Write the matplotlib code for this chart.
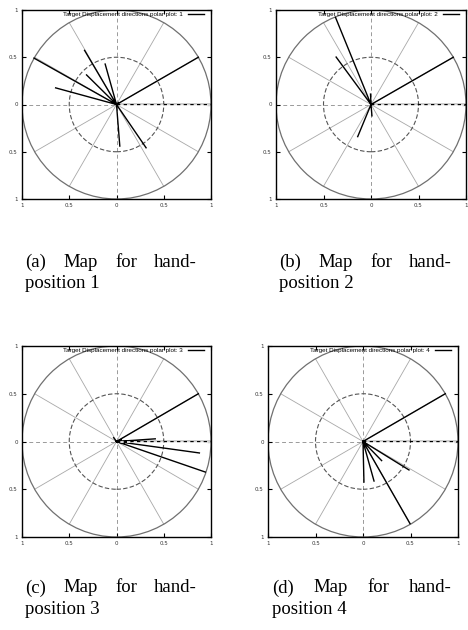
import numpy as np
import matplotlib
matplotlib.use("Agg")
import matplotlib.pyplot as plt
from matplotlib.patches import Circle

# end points of the displacement vectors (all start at the origin)
p1_x = [1.0, 0.866, -0.873, -0.644, -0.338, -0.317, -0.12, 0.035, 0.313, 0.02]
p1_y = [0.0, 0.5, 0.491, 0.176, 0.573, 0.313, 0.428, -0.44, -0.458, 0.02]
p2_x = [1.0, 0.866, -0.374, -0.367, -0.14, 0.01, -0.005]
p2_y = [0.0, 0.5, 0.923, 0.502, -0.34, -0.12, 0.11]
p3_x = [1.0, 0.866, 0.41, 0.877, 0.94, -0.03, 0.08, 0.05]
p3_y = [0.0, 0.5, 0.028, -0.12, -0.32, 0.04, -0.02, 0.02]
p4_x = [1.0, 0.866, 0.01, 0.116, 0.196, 0.484, 0.495, 0.03]
p4_y = [0.0, 0.5, -0.425, -0.414, -0.2, -0.298, -0.86, -0.03]

panel_x = [p1_x, p2_x, p3_x, p4_x]
panel_y = [p1_y, p2_y, p3_y, p4_y]
panel_num = ["1", "2", "3", "4"]
cap_tag = ["(a)", "(b)", "(c)", "(d)"]

tick_vals = [-1, -0.5, 0, 0.5, 1]
tick_text = ["1", "0.5", "0", "0.5", "1"]

W, H = 468, 630
fig = plt.figure(figsize=(W / 100, H / 100), dpi=100)

# axes boxes in pixels: left, top, right, bottom
boxes = [(22, 10, 211, 199), (276, 10, 466, 199),
         (22, 346, 211, 537), (268, 346, 458, 537)]
# caption columns: x0, x1, first line y, second line y
caps = [(25, 197, 262, 283), (279, 452, 262, 283),
        (25, 197, 588, 609), (272, 452, 588, 609)]

for i in range(4):
    l, t, r, b = boxes[i]
    ax = fig.add_axes([l / W, 1 - b / H, (r - l) / W, (b - t) / H])
    ax.set_xlim(-1, 1)
    ax.set_ylim(-1, 1)

    # grid
    for a in [30, 60, 120, 150, 210, 240, 300, 330]:
        th = np.deg2rad(a)
        ax.plot([0, np.cos(th)], [0, np.sin(th)], color="#a8a8a8", lw=0.6, zorder=1)
    ax.plot([-1, 0], [0, 0], color="#9a9a9a", lw=0.7, ls=(0, (4, 3)), zorder=1)
    ax.plot([0, 0], [-1, 1], color="#9a9a9a", lw=0.7, ls=(0, (4, 3)), zorder=1)
    ax.add_patch(Circle((0, 0), 0.5, fill=False, ec="#555555", lw=0.8,
                        ls=(0, (4, 2)), zorder=2))
    ax.add_patch(Circle((0, 0), 1.0, fill=False, ec="#707070", lw=0.9, zorder=2))

    # vectors from the origin, one line object with breaks
    xs, ys = [], []
    for x, y in zip(panel_x[i], panel_y[i]):
        xs += [0, x, np.nan]
        ys += [0, y, np.nan]
    ax.plot(xs, ys, color="black", lw=1.0, zorder=3,
            label="Target Displacement directions polar plot: " + panel_num[i])
    # the 0 degree vector appears dashed (overlays the axis)
    ax.plot([0, 1], [0, 0], color="white", lw=1.2, ls=(2, (2, 2)), zorder=3.5)

    ax.set_xticks(tick_vals)
    ax.set_xticklabels(tick_text)
    ax.set_yticks(tick_vals)
    ax.set_yticklabels(tick_text)
    ax.tick_params(direction="in", length=3, width=0.8, labelsize=4,
                   top=True, right=True, labelcolor="#333333", pad=3)
    for s in ax.spines.values():
        s.set_linewidth(1.0)
        s.set_color("black")

    ax.legend(loc="upper right", bbox_to_anchor=(0.962, 0.993), frameon=False,
              markerfirst=False, handlelength=2.5, handletextpad=0.8,
              borderpad=0, borderaxespad=0,
              prop={"family": "Liberation Sans", "size": 4.5})

    # justified caption
    x0, x1, y1, y2 = caps[i]
    words = [cap_tag[i], "Map", "for", "hand-"]
    fig.canvas.draw()
    rend = fig.canvas.get_renderer()
    objs = [fig.text(0, 1 - y1 / H, w, family="Liberation Serif", fontsize=13.5,
                     va="center", ha="left") for w in words]
    widths = [o.get_window_extent(rend).width for o in objs]
    gap = (x1 - x0 - sum(widths)) / (len(words) - 1)
    pos = x0
    for o, wd in zip(objs, widths):
        o.set_x(pos / W)
        pos += wd + gap
    fig.text(x0 / W, 1 - y2 / H, "position " + panel_num[i],
             family="Liberation Serif", fontsize=13.5, va="center", ha="left")

fig.savefig("out.png", dpi=100)
